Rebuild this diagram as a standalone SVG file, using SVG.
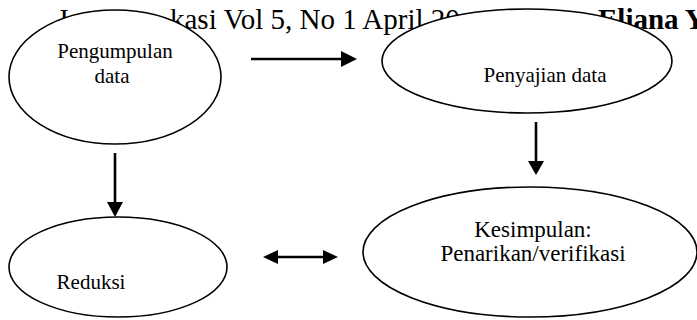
<svg xmlns="http://www.w3.org/2000/svg" width="697" height="320" viewBox="0 0 697 320">
<style>
.hdr{font-family:"Liberation Serif","Times New Roman",serif;font-size:29px;fill:#000}
.node ellipse{fill:#fff;stroke:#000;stroke-width:1.6}
.lbl{font-family:"Liberation Serif","Times New Roman",serif;font-size:21px;fill:#000;text-anchor:middle}
.lbl2{font-family:"Liberation Serif","Times New Roman",serif;font-size:23px;fill:#000;text-anchor:middle}
.conn line{stroke:#000;stroke-width:2.6}
.conn polygon{fill:#000}
</style>
<rect width="697" height="320" fill="#fff"/>
<g id="header">
<text class="hdr" x="57" y="29">J</text>
<text class="hdr" x="170" y="29">kasi Vol 5, No 1 April 20</text>
<text class="hdr" x="598" y="29" font-weight="bold">Eliana Y</text>
</g>
<g id="pengumpulan" class="node">
<ellipse cx="115" cy="77" rx="106" ry="67"/>
<text class="lbl" x="115" y="58">Pengumpulan</text>
<text class="lbl" x="112" y="83">data</text>
</g>
<g id="penyajian" class="node">
<ellipse cx="527" cy="61" rx="145" ry="52"/>
<text class="lbl" x="545" y="82">Penyajian data</text>
</g>
<g id="reduksi" class="node">
<ellipse cx="118" cy="267" rx="109" ry="50"/>
<text class="lbl" x="91" y="289">Reduksi</text>
</g>
<g id="kesimpulan" class="node">
<ellipse cx="530" cy="252" rx="167" ry="65"/>
<text class="lbl2" x="533" y="237">Kesimpulan:</text>
<text class="lbl2" x="533" y="261">Penarikan/verifikasi</text>
</g>
<g id="connectors" class="conn">
<line x1="251" y1="59" x2="342" y2="59"/>
<polygon points="341,51 357,59 341,67"/>
<line x1="115" y1="153" x2="115" y2="203"/>
<polygon points="107,202 115,217 123,202"/>
<line x1="536" y1="122" x2="536" y2="162"/>
<polygon points="528,161 536,175 544,161"/>
<line x1="277" y1="257" x2="324" y2="257"/>
<polygon points="278,250 263,257 278,264"/>
<polygon points="323,250 338,257 323,264"/>
</g>
</svg>
